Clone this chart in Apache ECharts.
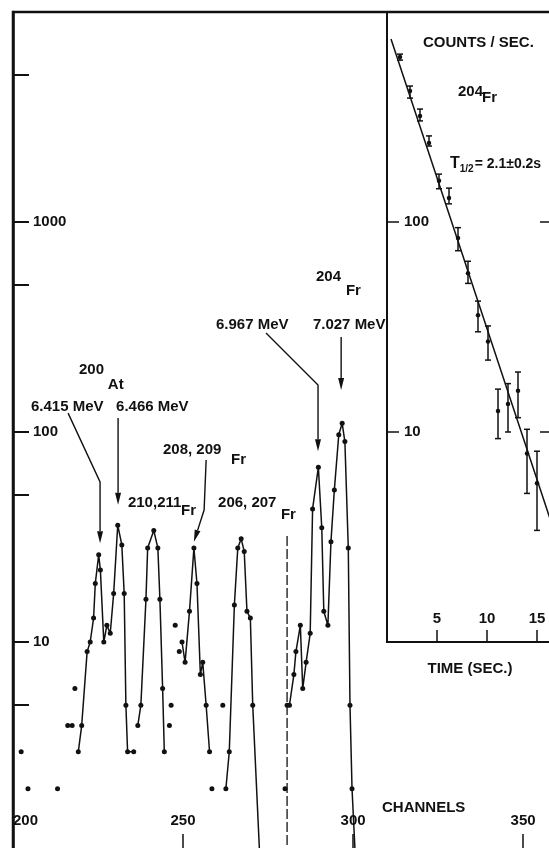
<!DOCTYPE html>
<html><head><meta charset="utf-8">
<script src="https://cdn.jsdelivr.net/npm/echarts@6/dist/echarts.min.js"></script>
<style>html,body{margin:0;padding:0;background:#fff}#c{width:549px;height:848px}</style>
</head><body><div id="c"></div>
<script>
// ---- main spectrum: connected points (null = break between peaks)
const lineChannels = [219.2,220.2,221.8,222.7,223.7,224.2,225.2,225.7,226.7,227.6,228.6,229.6,230.8,232.0,232.7,233.2,233.7,235.5, null,
  236.7,237.6,239.1,239.6,241.4,242.6,243.2,244.0,244.5, null,
  249.7,250.6,251.9,253.2,254.1,255.1,255.8,256.8,257.8, null,
  262.6,263.6,265.1,266.1,267.1,268.0,268.8,269.8,270.5,272.5, null,
  280.6,281.3,282.6,283.2,284.5,285.2,286.2,287.4,288.1,289.8,290.8,291.4,292.6,293.5,294.5,295.8,296.8,297.6,298.6,299.1,299.7,300.6];
const lineCounts = [3,4,9,10,13,19,26,22,10,12,11,17,36,29,17,5,3,3, null,
  4,5,16,28,34,28,16,6,3, null,
  10,8,14,28,19,7,8,5,3, null,
  2,3,15,28,31,27,14,13,5,1, null,
  5,5,7,9,12,6,8,11,43,68,35,14,12,30,53,97,110,90,28,5,2,1];
// isolated points
const isoChannels = [202.4,204.4,213.1,216.1,217.4,218.2,246.0,246.5,247.7,248.9,258.5,261.7,280.0];
const isoCounts   = [3,2,2,4,4,6,4,5,12,9,2,5,2];

// axis ticks
const chTicks = [200,250,300,350];
const countTicks = [5,10,50,100,500,1000,5000];
const countLabels = [10,100,1000];

// annotations (main)
const labelTexts  = ['200','At','6.415 MeV','6.466 MeV','210,211','Fr','208, 209','Fr','206, 207','Fr','204','Fr','6.967 MeV','7.027 MeV'];
const labelCh     = [219.4,227.9,205.3,230.3,233.8,249.4,244.1,264.1,260.3,278.8,289.1,297.9,259.7,288.2];
const labelCounts = [197,167.5,131.5,131.5,45.9,42.1,82,73.6,45.9,40.3,548,469,323,323];
const arrowCh     = [[216.2,225.6,225.6],[230.9,230.9],[256.8,256.2,253.2],[274.4,289.7,289.7],[296.5,296.5]];
const arrowCounts = [[123,57.8,29.5],[116.6,45],[73.6,42.5,30],[296,167.5,81],[283.5,158.5]];
const markerCh = [280.6, 280.6];
const markerCounts = [32, 1];

// ---- inset: decay curve
const decayTime = [1.3,2.3,3.3,4.2,5.2,6.2,7.1,8.1,9.1,10.1,11.1,12.1,13.1,14.0,15.0];
const decayRate = [611,421,320,238,157,130,84,57,36,27,12.6,13.6,15.7,7.9,5.7];
const errLow    = [590,389,303,230,144,122,73,51,30,22,9.3,10,11.7,5.1,3.4];
const errHigh   = [630,444,345,257,169,145,94,65,42,32,16,17,19.3,10.3,8.1];
const fitTime = [0.4,16.6];
const fitRate = [743,3.5];
const timeTicks = [5,10,15];
const rateTicks = [10,100];
const insetLabelTexts = ['204','Fr'];
const insetLabelTime  = [7.1,9.5];
const insetLabelRate  = [416,389];

const F = 'Liberation Sans, Arial, sans-serif';
const C = '#111';

function segments(xs, ys){
  const out=[]; let cur=[];
  xs.forEach((x,i)=>{ if(x===null){ if(cur.length) out.push(cur); cur=[]; } else cur.push([x, ys[i]]); });
  if(cur.length) out.push(cur);
  return out;
}
const labelStyle = {color:C, fontSize:15, fontFamily:F, fontWeight:'bold', opacity:1};

const series = [];
segments(lineChannels, lineCounts).forEach(seg=>{
  series.push({type:'line', xAxisIndex:0, yAxisIndex:0, data:seg, symbol:'circle', symbolSize:5, showSymbol:true,
    itemStyle:{color:C, opacity:1}, lineStyle:{color:C, width:1.5}, silent:true, animation:false});
});
series.push({type:'scatter', xAxisIndex:0, yAxisIndex:0, data: isoChannels.map((c,i)=>[c, isoCounts[i]]),
  symbolSize:5, itemStyle:{color:C, opacity:1}, silent:true, animation:false});
series.push({type:'line', xAxisIndex:0, yAxisIndex:0, data: markerCh.map((c,i)=>[c, markerCounts[i]]),
  showSymbol:false, lineStyle:{color:C, width:1.3, type:[10,3]}, silent:true, animation:false});
series.push({type:'custom', xAxisIndex:0, yAxisIndex:0, silent:true, animation:false,
  data: arrowCh.map((xs,i)=>[xs[0], arrowCounts[i][0], i]),
  encode:{x:0, y:1},
  renderItem:(params, api)=>{
    const i = api.value(2);
    const pts = arrowCh[i].map((c,j)=>api.coord([c, arrowCounts[i][j]]));
    const n = pts.length, a = pts[n-2], b = pts[n-1];
    const dx=b[0]-a[0], dy=b[1]-a[1], L=Math.hypot(dx,dy), ux=dx/L, uy=dy/L;
    const hl=12, hw=3;
    const base=[b[0]-ux*hl, b[1]-uy*hl];
    const l=[base[0]-uy*hw, base[1]+ux*hw], r=[base[0]+uy*hw, base[1]-ux*hw];
    return {type:'group', children:[
      {type:'polyline', shape:{points: pts.slice(0,n-1).concat([base])}, style:{stroke:C, lineWidth:1.4, fill:null}},
      {type:'polygon', shape:{points:[b,l,r]}, style:{fill:C}}
    ]};
  }});
series.push({type:'scatter', xAxisIndex:0, yAxisIndex:0, symbolSize:0, silent:true, animation:false,
  itemStyle:{opacity:1},
  data: labelTexts.map((t,i)=>({value:[labelCh[i], labelCounts[i]], name:t})),
  label:{show:true, position:'right', distance:0, formatter:p=>p.name, ...labelStyle}});

// inset
series.push({type:'line', xAxisIndex:1, yAxisIndex:1, data: fitTime.map((t,i)=>[t, fitRate[i]]),
  showSymbol:false, lineStyle:{color:C, width:1.5}, silent:true, animation:false});
series.push({type:'custom', xAxisIndex:1, yAxisIndex:1, silent:true, animation:false,
  data: decayTime.map((t,i)=>[t, errLow[i], errHigh[i]]),
  encode:{x:0, y:[1,2]},
  renderItem:(params, api)=>{
    const lo = api.coord([api.value(0), api.value(1)]);
    const hi = api.coord([api.value(0), api.value(2)]);
    const w=3, st={stroke:C, lineWidth:1.5};
    return {type:'group', children:[
      {type:'line', shape:{x1:lo[0],y1:lo[1],x2:hi[0],y2:hi[1]}, style:st},
      {type:'line', shape:{x1:lo[0]-w,y1:lo[1],x2:lo[0]+w,y2:lo[1]}, style:st},
      {type:'line', shape:{x1:hi[0]-w,y1:hi[1],x2:hi[0]+w,y2:hi[1]}, style:st}
    ]};
  }});
series.push({type:'scatter', xAxisIndex:1, yAxisIndex:1, data: decayTime.map((t,i)=>[t, decayRate[i]]),
  symbolSize:4.5, itemStyle:{color:C, opacity:1}, silent:true, animation:false});
series.push({type:'scatter', xAxisIndex:1, yAxisIndex:1, symbolSize:0, silent:true, animation:false,
  itemStyle:{opacity:1},
  data: insetLabelTexts.map((t,i)=>({value:[insetLabelTime[i], insetLabelRate[i]], name:t})),
  label:{show:true, position:'right', distance:0, formatter:p=>p.name, ...labelStyle}});

const plain = v => String(Math.round(v));

const option = {
  animation:false,
  backgroundColor:'#fff',
  grid:[
    {left:13, width:540, top:12, height:840, outerBoundsMode:'none', containLabel:false, show:true, borderColor:C, borderWidth:2.5, backgroundColor:'transparent'},
    {left:387, width:166, top:12, height:630, outerBoundsMode:'none', containLabel:false, show:true, borderColor:C, borderWidth:2, backgroundColor:'transparent'}
  ],
  xAxis:[
    {gridIndex:0, type:'value', min:200, max:358.8, position:'bottom',
     axisLine:{show:false}, splitLine:{show:false},
     axisTick:{show:true, inside:true, length:18, lineStyle:{color:C, width:1.5}, customValues:chTicks},
     axisLabel:{show:true, inside:true, margin:24, customValues:chTicks, alignMinLabel:'left', formatter:plain, ...labelStyle}},
    {gridIndex:1, type:'value', min:0, max:16.6, position:'bottom',
     axisLine:{show:true, lineStyle:{color:C, width:2}}, splitLine:{show:false},
     axisTick:{show:true, inside:true, length:12, lineStyle:{color:C, width:1.5}, customValues:timeTicks},
     axisLabel:{show:true, inside:true, margin:16, customValues:timeTicks, formatter:plain, ...labelStyle},
     name:'TIME (SEC.)', nameLocation:'middle', nameGap:19, nameTextStyle:{...labelStyle}}
  ],
  yAxis:[
    {gridIndex:0, type:'log', min:1, max:10000, logBase:10,
     axisLine:{show:true, lineStyle:{color:C, width:2.5}}, splitLine:{show:false},
     axisTick:{show:true, inside:true, length:16, lineStyle:{color:C, width:2}, customValues:countTicks},
     axisLabel:{show:true, inside:true, margin:20, customValues:countLabels, formatter:plain, ...labelStyle}},
    {gridIndex:1, type:'log', min:1, max:1000, logBase:10,
     axisLine:{show:true, lineStyle:{color:C, width:2}}, splitLine:{show:false},
     axisTick:{show:true, inside:true, length:12, lineStyle:{color:C, width:1.5}, customValues:rateTicks},
     axisLabel:{show:true, inside:true, margin:17, customValues:rateTicks, formatter:plain, ...labelStyle}},
    {gridIndex:1, type:'log', min:1, max:1000, logBase:10, position:'right',
     axisLine:{show:false}, splitLine:{show:false},
     axisTick:{show:true, inside:true, length:13, lineStyle:{color:C, width:1.5}, customValues:rateTicks},
     axisLabel:{show:false}}
  ],
  graphic:[
    {type:'text', left:423, top:35, style:{text:'COUNTS / SEC.', fill:C, font:'bold 15px '+F}},
    {type:'text', left:382, top:800, style:{text:'CHANNELS', fill:C, font:'bold 15px '+F}},
    {type:'text', left:450, top:156, style:{rich:{t:{fontSize:16, fontWeight:'bold', fontFamily:F, fill:C}, s:{fontSize:10, fontWeight:'bold', fontFamily:F, fill:C, padding:[10,1,0,0]}, n:{fontSize:14, fontWeight:'bold', fontFamily:F, fill:C}}, text:'{t|T}{s|1/2}{n|= 2.1±0.2s}'}}
  ],
  series: series
};
const chart = echarts.init(document.getElementById('c'), null, {renderer:'canvas'});
chart.setOption(option);
</script></body></html>
